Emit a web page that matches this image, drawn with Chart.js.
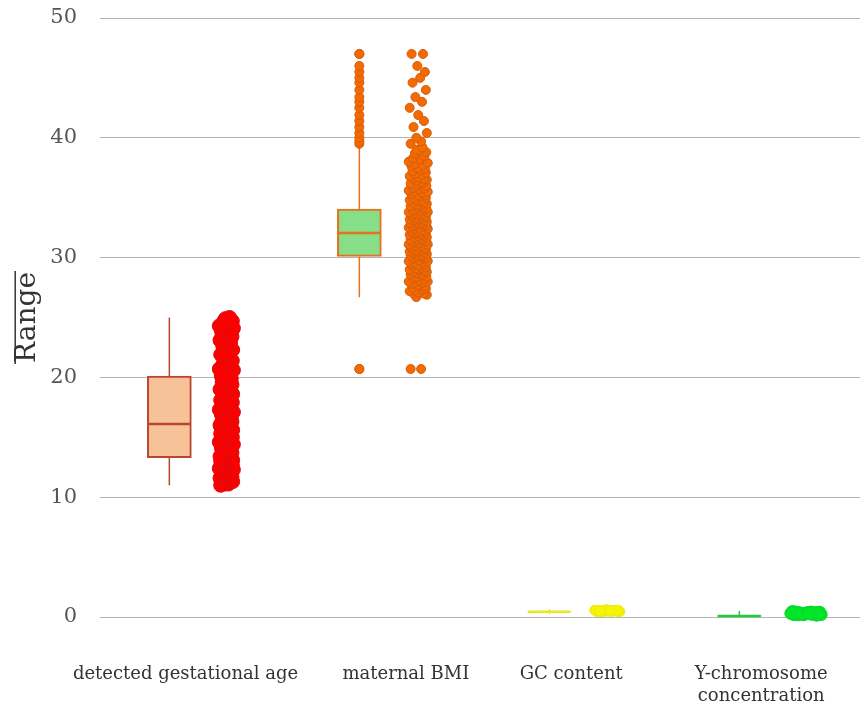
<!DOCTYPE html>
<html>
<head>
<meta charset="utf-8">
<script src="https://cdn.jsdelivr.net/npm/chart.js@4.4.1/dist/chart.umd.min.js"></script>
<style>
  html, body { margin: 0; padding: 0; background: #ffffff; }
  canvas { display: block; }
</style>
</head>
<body>
<canvas id="chart" width="860" height="711"></canvas>
<script>
// Categories shown along the x axis (multi-line labels as arrays)
const categories = [
  'detected gestational age',
  'maternal BMI',
  'GC content',
  ['Y-chromosome', 'concentration']
];

// Box statistics per category
const whiskerLow  = [11.0, 26.7, 0.25, 0.00];
const q1          = [13.3, 30.1, 0.42, 0.05];
const median      = [16.1, 32.05, 0.44, 0.08];
const q3          = [20.1, 34.05, 0.46, 0.12];
const whiskerHigh = [25.0, 39.3, 0.65, 0.50];

// Observations plotted beside each box
const gestationalAge = [
  11.0, 11.1, 11.1, 11.3, 11.3, 11.4, 11.4, 11.6, 11.6, 11.7, 11.7, 11.9, 11.9, 12.0, 12.0,
  12.1, 12.1, 12.3, 12.3, 12.4, 12.4, 12.6, 12.6, 12.7, 12.7, 12.9, 12.9, 13.0, 13.0, 13.1,
  13.1, 13.3, 13.3, 13.4, 13.4, 13.6, 13.6, 13.7, 13.7, 13.9, 14.0, 14.0, 14.1, 14.3, 14.3,
  14.4, 14.6, 14.6, 14.7, 14.9, 14.9, 15.0, 15.1, 15.1, 15.3, 15.4, 15.4, 15.6, 15.7, 15.7,
  15.9, 16.0, 16.0, 16.1, 16.3, 16.4, 16.4, 16.6, 16.7, 16.9, 16.9, 17.0, 17.1, 17.3, 17.4,
  17.4, 17.6, 17.7, 17.9, 18.0, 18.0, 18.1, 18.3, 18.4, 18.6, 18.7, 18.9, 19.0, 19.0, 19.1,
  19.3, 19.4, 19.6, 19.7, 19.9, 20.0, 20.1, 20.3, 20.4, 20.6, 20.7, 20.9, 21.0, 21.1, 21.3,
  21.4, 21.6, 21.7, 21.9, 22.0, 22.1, 22.3, 22.6, 22.9, 23.0, 23.1, 23.3, 23.3, 23.4, 23.6,
  23.6, 23.7, 23.9, 23.9, 24.0, 24.1, 24.1, 24.3, 24.4, 24.4, 24.6, 24.7, 24.7, 24.9, 25.0
];
const maternalBMI = [
  20.7, 20.7,
  26.7, 26.9, 27.0, 27.0, 27.1, 27.2, 27.3, 27.3, 27.4, 27.5, 27.6, 27.6, 27.7, 27.8, 27.9, 27.9,
  28.0, 28.0, 28.1, 28.2, 28.2, 28.3, 28.4, 28.4, 28.5, 28.6, 28.6, 28.7, 28.8, 28.8, 28.9, 29.0,
  29.0, 29.1, 29.1, 29.2, 29.3, 29.3, 29.4, 29.4, 29.5, 29.6, 29.6, 29.7, 29.7, 29.8, 29.9, 29.9,
  30.0, 30.0, 30.1, 30.1, 30.2, 30.2, 30.3, 30.3, 30.4, 30.4, 30.5, 30.5, 30.6, 30.6, 30.7, 30.7,
  30.8, 30.8, 30.9, 30.9, 31.0, 31.0, 31.1, 31.1, 31.2, 31.2, 31.3, 31.3, 31.4, 31.4, 31.5, 31.5,
  31.6, 31.6, 31.7, 31.7, 31.8, 31.8, 31.9, 31.9, 32.0, 32.0, 32.1, 32.1, 32.2, 32.2, 32.3, 32.3,
  32.4, 32.4, 32.5, 32.5, 32.6, 32.6, 32.7, 32.7, 32.8, 32.8, 32.9, 32.9, 33.0, 33.0, 33.1, 33.1,
  33.2, 33.2, 33.3, 33.3, 33.4, 33.4, 33.5, 33.5, 33.6, 33.6, 33.7, 33.7, 33.8, 33.8, 33.9, 33.9,
  34.0, 34.0, 34.1, 34.2, 34.2, 34.3, 34.4, 34.4, 34.5, 34.6, 34.6, 34.7, 34.8, 34.8, 34.9,
  35.0, 35.0, 35.1, 35.2, 35.2, 35.3, 35.4, 35.5, 35.5, 35.6, 35.7, 35.8, 35.8, 35.9,
  36.0, 36.1, 36.2, 36.2, 36.3, 36.4, 36.5, 36.6, 36.6, 36.7, 36.8, 36.9,
  37.0, 37.1, 37.2, 37.3, 37.4, 37.5, 37.6, 37.7, 37.8, 37.9,
  38.0, 38.2, 38.3, 38.5, 38.7, 38.8, 39.0, 39.2,
  39.5, 39.7, 40.0, 40.4, 40.9, 41.4, 41.9, 42.5, 43.0, 43.4, 44.0, 44.6, 45.0, 45.5, 46.0,
  47.0, 47.0
];
const gcContent = [
  0.48, 0.52, 0.50, 0.55, 0.46, 0.53, 0.58, 0.49, 0.51, 0.54, 0.47, 0.56, 0.50, 0.52, 0.60,
  0.49, 0.53, 0.51, 0.45, 0.57, 0.50, 0.52, 0.54, 0.48, 0.55, 0.51, 0.53, 0.50, 0.56, 0.52,
  0.49, 0.51, 0.54, 0.50, 0.53, 0.47, 0.52, 0.55, 0.50, 0.51
];
const yConcentration = [
  0.20, 0.32, 0.26, 0.40, 0.18, 0.35, 0.28, 0.45, 0.22, 0.30, 0.38, 0.25, 0.33, 0.15, 0.29,
  0.42, 0.27, 0.34, 0.21, 0.31, 0.37, 0.24, 0.30, 0.28, 0.36, 0.19, 0.33, 0.26, 0.41, 0.30,
  0.23, 0.35, 0.29, 0.32, 0.27, 0.39, 0.25, 0.31, 0.34, 0.28
];
const observations = [gestationalAge, maternalBMI, gcContent, yConcentration];

// Y axis ticks
const yTicks = [0, 10, 20, 30, 40, 50];

// Layout of marks within each category slot (x axis units)
const boxOffset = -0.135;
const pointCenter = [0.165, 0.175, 0.17, 0.216];
const jitterWidth = [0.037, 0.05, 0.066, 0.08];
const jitterPattern = [
  -0.8, 0.3, -0.2, 0.9, -0.5, 0.6, 0.0, -0.9, 0.4, -0.3, 0.8, -0.6, 0.2, 0.7,
  -0.1, -0.7, 0.5, -0.4, 1.0, -1.0, 0.1, -0.55, 0.65, -0.35, 0.85, -0.15, 0.45
];
const labelAt = [-0.05, 1.11, 1.98, 2.98];
const medianHalf = 0.112;

// Styling per category
const boxFill   = ['rgb(248,194,152)', 'rgb(134,222,134)', 'rgb(250,250,120)', 'rgb(120,235,120)'];
const boxEdge   = ['rgb(185,70,50)', 'rgb(232,112,30)', 'rgb(232,232,30)', 'rgb(30,205,60)'];
const dotFill   = ['rgb(255,0,0)', 'rgb(242,106,0)', 'rgb(246,246,0)', 'rgb(0,232,40)'];
const dotEdge   = ['rgb(225,10,10)', 'rgb(215,92,12)', 'rgb(236,236,20)', 'rgb(10,215,45)'];
const dotRadius = [7, 4.5, 5, 6];

const datasets = [];

// Boxes (Q1 to Q3) as floating bars
datasets.push({
  type: 'bar',
  order: 3,
  clip: false,
  grouped: false,
  data: categories.map((_, i) => ({ x: i + boxOffset, y: [q1[i], q3[i]] })),
  backgroundColor: boxFill,
  borderColor: boxEdge,
  borderWidth: 2,
  borderSkipped: false,
  barThickness: 44
});

categories.forEach((_, i) => {
  const cx = i + boxOffset;
  // Whiskers
  datasets.push({
    type: 'line',
    order: 2,
    clip: false,
    data: [
      { x: cx, y: whiskerLow[i] }, { x: cx, y: q1[i] }, { x: cx, y: null },
      { x: cx, y: q3[i] }, { x: cx, y: whiskerHigh[i] }
    ],
    borderColor: boxEdge[i],
    borderWidth: 1.5,
    pointRadius: 0,
    spanGaps: false
  });
  // Median
  datasets.push({
    type: 'line',
    order: 1,
    clip: false,
    data: [{ x: cx - medianHalf, y: median[i] }, { x: cx + medianHalf, y: median[i] }],
    borderColor: boxEdge[i],
    borderWidth: 2.5,
    pointRadius: 0
  });
  // Outliers beyond the whiskers, in the box column
  const out = observations[i].filter(v => v < whiskerLow[i] || v > whiskerHigh[i]);
  if (out.length) {
    datasets.push({
      type: 'scatter',
      order: 0,
      clip: false,
      data: out.map(v => ({ x: cx, y: v })),
      backgroundColor: dotFill[i],
      borderColor: dotEdge[i],
      borderWidth: 1,
      pointRadius: dotRadius[i]
    });
  }
  // All observations, spread beside the box
  datasets.push({
    type: 'scatter',
    order: 0,
    clip: false,
    data: observations[i].map((v, k) => ({
      x: i + pointCenter[i] + jitterPattern[k % jitterPattern.length] * jitterWidth[i],
      y: v
    })),
    backgroundColor: dotFill[i],
    borderColor: dotEdge[i],
    borderWidth: 1,
    pointRadius: dotRadius[i]
  });
});

// Rule above the rotated axis title
const titleOverline = {
  id: 'titleOverline',
  afterDraw(chart) {
    const s = chart.scales.y;
    const t = s.options.title;
    const font = Chart.helpers.toFont(t.font);
    const pad = Chart.helpers.toPadding(t.padding);
    const cx = s.left + pad.top + font.lineHeight / 2;
    const cy = (s.top + s.bottom) / 2;
    const ctx = chart.ctx;
    ctx.save();
    ctx.font = font.string;
    const w = ctx.measureText(t.text).width;
    ctx.strokeStyle = '#333333';
    ctx.lineWidth = 1.5;
    ctx.beginPath();
    const x = cx - font.size * 0.45;
    ctx.moveTo(x, cy - w / 2 - 1);
    ctx.lineTo(x, cy + w / 2 + 1);
    ctx.stroke();
    ctx.restore();
  }
};

new Chart(document.getElementById('chart'), {
  type: 'scatter',
  data: { datasets },
  plugins: [titleOverline],
  options: {
    responsive: false,
    animation: false,
    devicePixelRatio: 1,
    layout: { autoPadding: false, padding: { top: 18, right: 0, bottom: 0, left: 0 } },
    plugins: { legend: { display: false }, tooltip: { enabled: false } },
    scales: {
      x: {
        type: 'linear',
        min: -0.5,
        max: 3.5,
        offset: false,
        grid: { display: false, drawTicks: false },
        border: { display: false },
        afterBuildTicks: scale => { scale.ticks = labelAt.map(v => ({ value: v })); },
        afterFit: scale => {
          scale.height = 94;
          scale.paddingLeft = 0;
          scale.paddingRight = 0;
        },
        ticks: {
          autoSkip: false,
          maxRotation: 0,
          padding: 46,
          color: '#333333',
          font: { family: '"DejaVu Serif", serif', size: 18, lineHeight: 1.22 },
          callback: (value, index) => categories[index]
        }
      },
      y: {
        type: 'linear',
        min: 0,
        max: 50,
        afterBuildTicks: scale => { scale.ticks = yTicks.map(v => ({ value: v })); },
        afterFit: scale => {
          scale.width = 100;
          scale.paddingTop = 0;
          scale.paddingBottom = 0;
        },
        grid: { color: '#b4b4b4', lineWidth: 1, drawTicks: false },
        border: { display: false },
        ticks: {
          padding: 23,
          color: '#555555',
          font: { family: '"DejaVu Serif", serif', size: 21 }
        },
        title: {
          display: true,
          text: 'Range',
          color: '#333333',
          padding: { top: 11, bottom: 0 },
          font: { family: '"DejaVu Serif", serif', size: 28 }
        }
      }
    }
  }
});
</script>
</body>
</html>
